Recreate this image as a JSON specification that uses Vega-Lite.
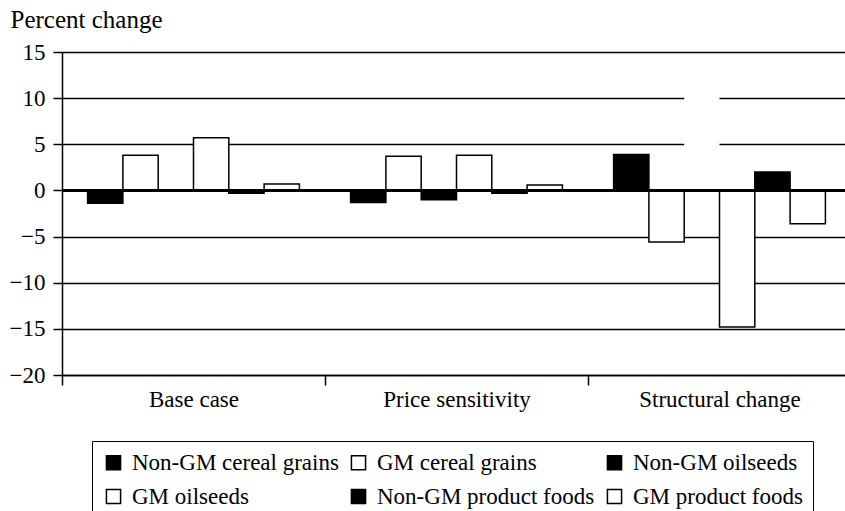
{
  "$schema": "https://vega.github.io/schema/vega-lite/v6.json",
  "width": 789,
  "height": 323,
  "autosize": {"type": "none"},
  "padding": {"left": 62, "top": 52, "right": 0, "bottom": 136},
  "background": "white",
  "config": {"view": {"stroke": null}, "font": "Liberation Serif"},
  "data": {
    "values": [
      {"scenario": "Base case", "series": "Non-GM cereal grains", "value": -1.4},
      {"scenario": "Base case", "series": "GM cereal grains", "value": 3.8},
      {"scenario": "Base case", "series": "Non-GM oilseeds", "value": 0},
      {"scenario": "Base case", "series": "GM oilseeds", "value": 5.7},
      {"scenario": "Base case", "series": "Non-GM product foods", "value": -0.3},
      {"scenario": "Base case", "series": "GM product foods", "value": 0.7},
      {"scenario": "Price sensitivity", "series": "Non-GM cereal grains", "value": -1.3},
      {"scenario": "Price sensitivity", "series": "GM cereal grains", "value": 3.7},
      {"scenario": "Price sensitivity", "series": "Non-GM oilseeds", "value": -1.0},
      {"scenario": "Price sensitivity", "series": "GM oilseeds", "value": 3.8},
      {"scenario": "Price sensitivity", "series": "Non-GM product foods", "value": -0.3},
      {"scenario": "Price sensitivity", "series": "GM product foods", "value": 0.6},
      {"scenario": "Structural change", "series": "Non-GM cereal grains", "value": 3.9},
      {"scenario": "Structural change", "series": "GM cereal grains", "value": -5.6},
      {"scenario": "Structural change", "series": "Non-GM oilseeds", "value": 12},
      {"scenario": "Structural change", "series": "GM oilseeds", "value": -14.8},
      {"scenario": "Structural change", "series": "Non-GM product foods", "value": 2.0},
      {"scenario": "Structural change", "series": "GM product foods", "value": -3.6}
    ]
  },
  "layer": [
    {
      "mark": {"type": "bar", "stroke": "black", "strokeWidth": 1.5},
      "encoding": {
        "x": {
          "field": "scenario",
          "type": "nominal",
          "sort": ["Base case", "Price sensitivity", "Structural change"],
          "scale": {"paddingInner": 0, "paddingOuter": 0},
          "axis": {
            "title": null,
            "orient": "bottom",
            "tickBand": "extent",
            "grid": false,
            "domainColor": "black",
            "domainWidth": 1.5,
            "tickColor": "black",
            "tickWidth": 1.5,
            "tickSize": 10,
            "labelPadding": 3,
            "labelFont": "Liberation Serif",
            "labelFontSize": 23,
            "labelColor": "black",
            "labelAngle": 0
          }
        },
        "xOffset": {
          "field": "series",
          "type": "nominal",
          "sort": ["Non-GM cereal grains", "GM cereal grains", "Non-GM oilseeds", "GM oilseeds", "Non-GM product foods", "GM product foods"],
          "scale": {"paddingInner": 0, "paddingOuter": 0.725}
        },
        "y": {
          "field": "value",
          "type": "quantitative",
          "scale": {"domain": [-20, 15], "nice": false},
          "axis": {
            "title": "Percent change",
            "titleAngle": 0,
            "titleAlign": "left",
            "titleBaseline": "alphabetic",
            "titleX": -52,
            "titleY": -25,
            "titleFont": "Liberation Serif",
            "titleFontSize": 25,
            "titleFontWeight": "normal",
            "titleColor": "black",
            "values": [-20, -15, -10, -5, 0, 5, 10, 15],
            "grid": true,
            "gridColor": "black",
            "gridWidth": 1.5,
            "domainColor": "black",
            "domainWidth": 1.5,
            "tickColor": "black",
            "tickWidth": 1.5,
            "tickSize": 9,
            "labelPadding": 8,
            "labelFont": "Liberation Serif",
            "labelFontSize": 23,
            "labelColor": "black"
          }
        },
        "fill": {
          "condition": {"test": "datum.scenario === 'Structural change' && datum.series === 'Non-GM oilseeds'", "value": "white"},
          "field": "series",
          "type": "nominal",
          "scale": {
            "domain": ["Non-GM cereal grains", "GM cereal grains", "Non-GM oilseeds", "GM oilseeds", "Non-GM product foods", "GM product foods"],
            "range": ["black", "white", "black", "white", "black", "white"]
          },
          "legend": {
            "orient": "none",
            "legendX": 30,
            "legendY": 389,
            "direction": "horizontal",
            "columns": 3,
            "title": null,
            "symbolType": "square",
            "symbolSize": 200,
            "symbolStrokeColor": "black",
            "symbolStrokeWidth": 1.5,
            "labelFont": "Liberation Serif",
            "labelFontSize": 23,
            "labelColor": "black",
            "labelOffset": 7,
            "labelLimit": 400,
            "columnPadding": 8,
            "rowPadding": 10,
            "strokeColor": "black",
            "padding": 10
          }
        },
        "strokeOpacity": {
          "condition": {"test": "datum.scenario === 'Structural change' && datum.series === 'Non-GM oilseeds'", "value": 0},
          "value": 1
        }
      }
    },
    {
      "mark": {"type": "rule", "color": "black", "strokeWidth": 1.5},
      "encoding": {"y": {"datum": 0}}
    }
  ]
}
